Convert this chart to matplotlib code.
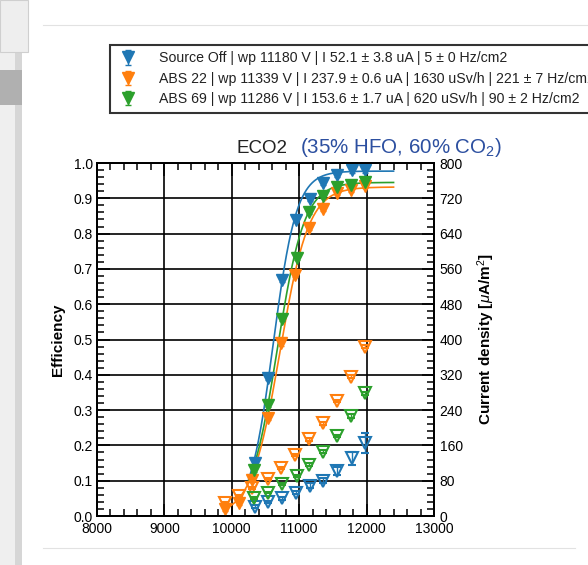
import numpy as np
import matplotlib
matplotlib.use("Agg")
import matplotlib.pyplot as plt
from matplotlib.patches import Rectangle
from matplotlib.lines import Line2D
from matplotlib.ticker import MultipleLocator, FormatStrFormatter

plt.rcParams['font.family'] = ['Liberation Sans', 'DejaVu Sans']
plt.rcParams['mathtext.fontset'] = 'custom'
plt.rcParams['mathtext.rm'] = 'Liberation Sans'
plt.rcParams['mathtext.it'] = 'Liberation Sans:italic'
plt.rcParams['mathtext.bf'] = 'Liberation Sans:bold'

# Source Off
hv_off = [10340, 10540, 10740, 10950, 11160, 11360, 11560, 11780, 11980]
eff_off = [0.149, 0.392, 0.668, 0.838, 0.899, 0.943, 0.967, 0.979, 0.979]
cur_off = [21, 32, 40, 53, 69, 80, 103, 131, 165]
cur_err_off = [3, 3, 4, 4, 5, 6, 9, 15, 22]

# ABS 22
hv_22 = [9900, 10110, 10300, 10530, 10730, 10940, 11140, 11350, 11560, 11770, 11980]
eff_22 = [0.019, 0.038, 0.103, 0.277, 0.489, 0.683, 0.815, 0.869, 0.914, 0.924, 0.935]
cur_22 = [29, 45, 63, 83, 109, 138, 174, 210, 261, 316, 384]
cur_err_22 = [2, 2, 2, 2, 2, 2, 3, 3, 3, 3, 4]

# ABS 69
hv_69 = [10330, 10530, 10740, 10960, 11140, 11350, 11560, 11770, 11980]
eff_69 = [0.130, 0.314, 0.557, 0.730, 0.862, 0.907, 0.933, 0.937, 0.947]
cur_69 = [40, 53, 72, 91, 116, 146, 181, 227, 278]
cur_err_69 = [2, 2, 2, 3, 3, 3, 3, 4, 4]

# sigmoid fit parameters: plateau, HV50, slope, start of range
fit_plateau = [0.977, 0.932, 0.945]
fit_hv50 = [10615, 10715, 10675]
fit_slope = [0.0058, 0.0047, 0.0050]
fit_start = [10250, 9880, 10250]
fit_end = 12400

labels = [
    'Source Off | wp 11180 V | I 52.1 \u00b1 3.8 uA | 5 \u00b1 0 Hz/cm2',
    'ABS 22 | wp 11339 V | I 237.9 \u00b1 0.6 uA | 1630 uSv/h | 221 \u00b1 7 Hz/cm2',
    'ABS 69 | wp 11286 V | I 153.6 \u00b1 1.7 uA | 620 uSv/h | 90 \u00b1 2 Hz/cm2',
]
colors = ['#1f77b4', '#ff7f0e', '#2ca02c']

hv_all = [hv_off, hv_22, hv_69]
eff_all = [eff_off, eff_22, eff_69]
cur_all = [cur_off, cur_22, cur_69]
cur_err_all = [cur_err_off, cur_err_22, cur_err_69]

W, H = 588, 565
fig = plt.figure(figsize=(W / 100, H / 100), dpi=100)
fig.patch.set_facecolor('white')

# screenshot frame decoration
fig.patches.append(Rectangle((0, 0), 15 / W, 1, transform=fig.transFigure,
                             facecolor='#efefef', edgecolor='none', zorder=0))
fig.patches.append(Rectangle((15 / W, 0), 7 / W, 1 - 5 / H, transform=fig.transFigure,
                             facecolor='#d6d6d6', edgecolor='none', zorder=0))
fig.patches.append(Rectangle((0, 1 - 52 / H), 28 / W, 52 / H, transform=fig.transFigure,
                             facecolor='#eeeeee', edgecolor='#cfcfcf', lw=0.8, zorder=0))
fig.patches.append(Rectangle((0, 1 - 105 / H), 22 / W, 35 / H, transform=fig.transFigure,
                             facecolor='#b0b0b0', edgecolor='none', zorder=0))
fig.lines.append(Line2D([43 / W, 1], [1 - 25 / H, 1 - 25 / H], transform=fig.transFigure,
                        color='#e2e2e2', lw=0.8))
fig.lines.append(Line2D([43 / W, 575 / W], [1 - 548 / H, 1 - 548 / H], transform=fig.transFigure,
                        color='#e2e2e2', lw=0.8))

ax = fig.add_axes([97 / W, 1 - 516 / H, (434 - 97) / W, (516 - 163) / H])
ax2 = ax.twinx()

ax.set_xlim(8000, 13000)
ax.set_ylim(0, 1.0)
ax2.set_ylim(0, 800)

ax.xaxis.set_major_locator(MultipleLocator(1000))
ax.xaxis.set_minor_locator(MultipleLocator(200))
ax.yaxis.set_major_locator(MultipleLocator(0.1))
ax.yaxis.set_minor_locator(MultipleLocator(0.02))
ax.yaxis.set_major_formatter(FormatStrFormatter('%.1f'))
ax2.yaxis.set_major_locator(MultipleLocator(80))
ax2.yaxis.set_minor_locator(MultipleLocator(16))

ax.grid(which='major', color='black', lw=1.2, zorder=0)
ax.tick_params(axis='x', which='both', direction='in', top=True, labelsize=10, pad=4, width=1.1)
ax.tick_params(axis='y', which='both', direction='in', right=False, labelsize=10, pad=3, width=1.1)
ax.tick_params(which='major', length=9)
ax.tick_params(which='minor', length=5)
ax2.tick_params(axis='y', which='both', direction='in', labelsize=10, pad=4, width=1.1)
ax2.tick_params(which='major', length=9)
ax2.tick_params(which='minor', length=5)
for a in (ax, ax2):
    for s in a.spines.values():
        s.set_linewidth(1.3)
        s.set_color('black')

handles = []
for i in range(3):
    c = colors[i]
    xs = np.linspace(fit_start[i], fit_end, 300)
    ys = fit_plateau[i] / (1 + np.exp(-fit_slope[i] * (xs - fit_hv50[i])))
    ax.plot(xs, ys, color=c, lw=1.2, zorder=3)
    h = ax.errorbar(hv_all[i], eff_all[i], yerr=0.006, fmt='v', color=c, ms=8,
                    capsize=2, elinewidth=1, zorder=4)
    handles.append(h)
    ax2.errorbar(hv_all[i], cur_all[i], yerr=cur_err_all[i], fmt='v', mfc='none', mec=c,
                 ecolor=c, ms=8, mew=1.5, capsize=3, elinewidth=1, zorder=4)

ax.set_ylabel('Efficiency', fontsize=11, fontweight='bold', labelpad=6)
ax2.set_ylabel(r'Current density [$\mu$A/m$^2$]', fontsize=11, fontweight='bold', labelpad=9)

fig.text(237 / W, 1 - 153 / H, 'ECO2', fontsize=13.5, color='#222222', ha='left', va='baseline')
fig.text(300 / W, 1 - 153 / H, r'(35% HFO, 60% CO$_2$)', fontsize=14.8, color='#2c4fa0',
         ha='left', va='baseline')

leg = fig.legend(handles, labels, loc='upper left', bbox_to_anchor=(110 / W, 1 - 45 / H),
                 fontsize=10.2, frameon=True, fancybox=False, edgecolor='black',
                 handlelength=1.6, handletextpad=1.4, labelspacing=0.45, borderpad=0.45,
                 borderaxespad=0)
leg.get_frame().set_linewidth(1.5)
leg.get_frame().set_facecolor('white')
for t in leg.get_texts():
    t.set_color('#222222')

fig.savefig('out.png', dpi=100)
